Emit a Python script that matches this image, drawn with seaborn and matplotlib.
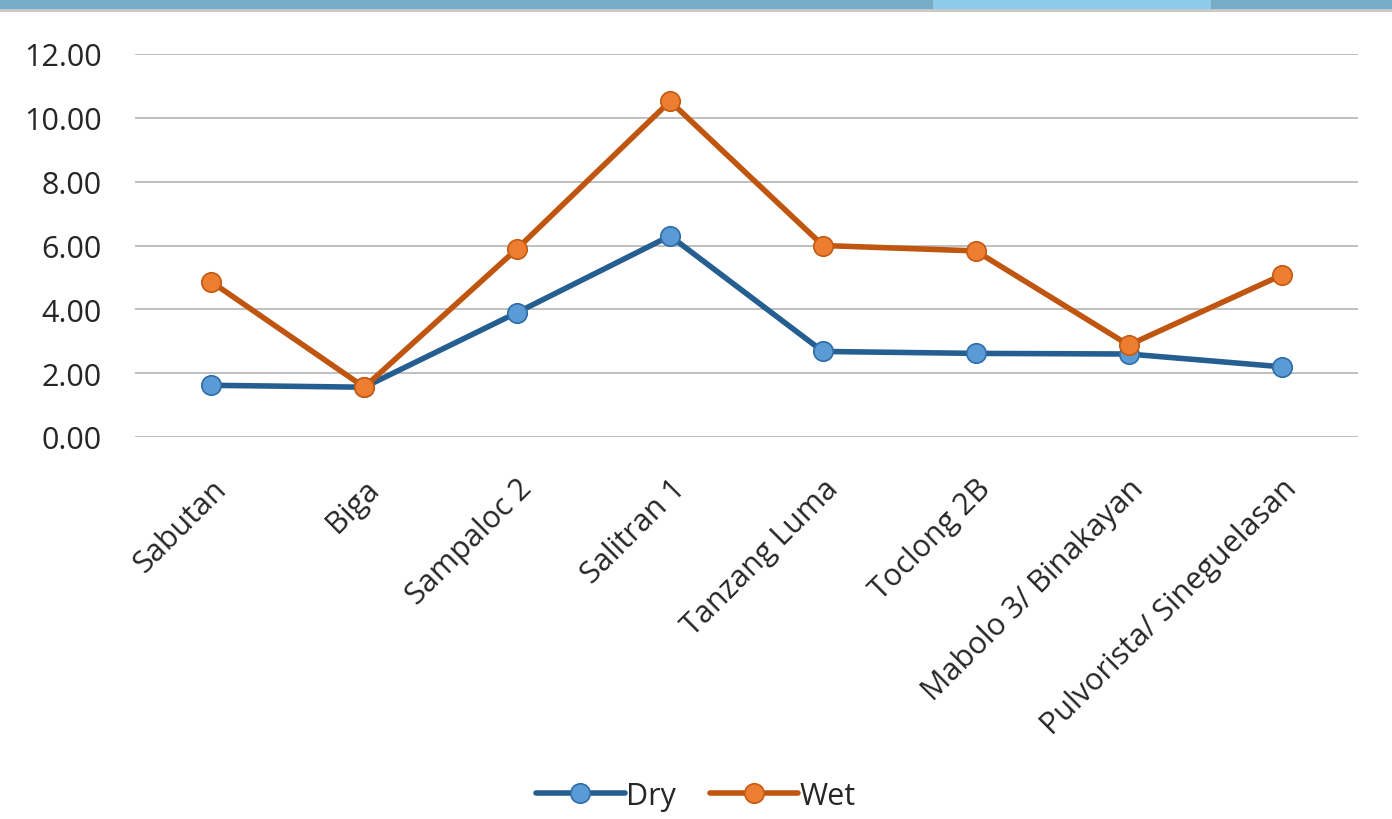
import matplotlib
matplotlib.use("Agg")
import matplotlib.pyplot as plt
import seaborn as sns
import pandas as pd
import numpy as np
from matplotlib.patches import Rectangle
from matplotlib.lines import Line2D

categories = ["Sabutan", "Biga", "Sampaloc 2", "Salitran 1", "Tanzang Luma",
              "Toclong 2B", "Mabolo 3/ Binakayan", "Pulvorista/ Sineguelasan"]
dry = [1.62, 1.56, 3.90, 6.30, 2.68, 2.62, 2.60, 2.20]
wet = [4.86, 1.56, 5.90, 10.52, 6.00, 5.83, 2.88, 5.07]
series_names = ["Dry", "Wet"]
yticks = [0, 2, 4, 6, 8, 10, 12]

df = pd.DataFrame({
    "site": categories * 2,
    "value": dry + wet,
    "season": ["Dry"] * len(dry) + ["Wet"] * len(wet),
})

sns.set_theme(style="white")
plt.rcParams['font.family'] = ['Open Sans', 'DejaVu Sans']

fig = plt.figure(figsize=(13.92, 8.2), dpi=100)
ax = fig.add_axes([135 / 1392, 1 - 438 / 820, (1358 - 135) / 1392, (438 - 55) / 820])

line_cols = {"Dry": "#255E91", "Wet": "#C0550F"}
face_cols = {"Dry": "#5B9BD5", "Wet": "#ED7D31"}
edge_cols = {"Dry": "#2E6DA8", "Wet": "#C55A11"}

FS = 22
LW = 4.0
MS = 14

sns.lineplot(data=df, x="site", y="value", hue="season", palette=line_cols,
             sort=False, marker="o", markersize=MS, linewidth=LW, ax=ax,
             legend=False, zorder=3)

for ln, name in zip(ax.lines, series_names):
    ln.set_markerfacecolor(face_cols[name])
    ln.set_markeredgecolor(edge_cols[name])
    ln.set_markeredgewidth(1.2)
    ln.set_solid_capstyle("round")

ax.set_xlim(-0.5, len(categories) - 0.5)
ax.set_ylim(0, 12)
ax.set_yticks(yticks)
ax.set_yticklabels([f"{v:.2f}" for v in yticks], fontsize=FS, color="#262626")
ax.set_xticks(range(len(categories)))
ax.set_xticklabels(categories, rotation=45, ha="right", rotation_mode="anchor",
                   fontsize=FS, color="#262626")
ax.tick_params(axis="x", length=0, pad=26)
ax.tick_params(axis="y", length=0, pad=24)
ax.set_xlabel("")
ax.set_ylabel("")
ax.grid(axis="y", color="#BFBFBF", linewidth=1.4)
ax.grid(axis="x", visible=False)
for s in ax.spines.values():
    s.set_visible(False)
for ln in ax.lines:
    ln.set_clip_on(False)

handles = [Line2D([0], [0], color=line_cols[n], linewidth=LW, marker="o",
                  markersize=MS, markerfacecolor=face_cols[n],
                  markeredgecolor=edge_cols[n], markeredgewidth=1.2,
                  solid_capstyle="round")
           for n in series_names]
fig.legend(handles, series_names, loc="center", bbox_to_anchor=(0.5, 1 - 797 / 820),
           ncol=2, frameon=False, fontsize=FS, handlelength=2.9, handletextpad=0.05,
           columnspacing=1.1, labelcolor="#262626")

# slide header band
fig.add_artist(Rectangle((0, 1 - 10 / 820), 1, 10 / 820, transform=fig.transFigure,
                         facecolor="#76AEC8", edgecolor="none"))
fig.add_artist(Rectangle((0.67, 1 - 10 / 820), 0.2, 10 / 820, transform=fig.transFigure,
                         facecolor="#8CCBEA", edgecolor="none"))
fig.add_artist(Rectangle((0, 1 - 13 / 820), 1, 3 / 820, transform=fig.transFigure,
                         facecolor="#C8C8C8", edgecolor="none"))

fig.savefig("out.png", dpi=100)
